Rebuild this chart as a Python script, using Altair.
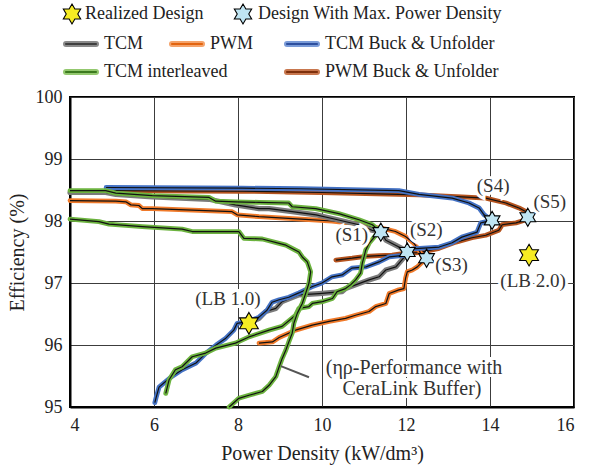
import altair as alt
import pandas as pd

# Pareto fronts: power density (kW/dm³) vs. efficiency (%)
tcm_x = [4.00, 4.85, 5.09, 5.96, 7.31, 7.94, 8.50, 8.74, 9.29, 9.86, 10.24, 10.88, 11.19, 11.40,
         11.52, 11.75, 11.92, 12.03, 12.00, 11.76, 11.52, 11.36, 11.12, 10.88, 10.56, 10.48, 9.93,
         9.45, 9.05, 8.90, 8.66, 8.50, 8.26]
tcm_y = [98.46, 98.46, 98.43, 98.39, 98.35, 98.26, 98.20, 98.20, 98.15, 98.10, 98.04, 97.94, 97.85, 97.82,
         97.69, 97.61, 97.55, 97.50, 97.45, 97.26, 97.21, 97.10, 97.05, 96.99, 96.91, 96.86, 96.83,
         96.81, 96.70, 96.59, 96.54, 96.43, 96.35]

pwm_x = [4.00, 5.09, 5.33, 5.45, 5.64, 5.72, 5.96, 7.86, 7.98, 8.50, 9.50, 10.24, 10.88, 11.20, 11.44,
         11.75, 11.99, 12.19, 12.31, 12.39, 12.49, 12.39, 12.27, 12.15, 12.03, 11.99, 11.95, 11.83, 11.60,
         11.52, 11.28, 11.12, 10.80, 10.56, 10.17, 9.77, 9.37, 8.98, 8.82, 8.50]
pwm_y = [98.33, 98.32, 98.31, 98.26, 98.25, 98.20, 98.20, 98.15, 98.10, 98.07, 98.03, 98.00, 97.95, 97.90, 97.88,
         97.83, 97.75, 97.64, 97.53, 97.42, 97.40, 97.34, 97.26, 97.21, 97.18, 97.08, 96.91, 96.89, 96.83,
         96.67, 96.62, 96.54, 96.48, 96.43, 96.38, 96.32, 96.24, 96.12, 96.05, 96.03]

tcm_bu_x = [4.86, 8.10, 9.50, 11.83, 12.31, 13.10, 13.50, 13.74, 13.86, 14.05, 13.78, 13.69, 13.33, 13.10,
            12.79, 12.14, 12.00, 11.60, 11.36, 11.05, 10.71, 10.48, 10.24, 10.00, 9.76, 9.45, 9.21, 8.98,
            8.81, 8.69, 8.50, 8.26, 7.98, 7.90, 7.71, 7.48, 7.24, 7.00, 6.67, 6.40, 6.24, 6.12, 6.05, 6.02]
tcm_bu_y = [98.54, 98.53, 98.52, 98.49, 98.43, 98.37, 98.29, 98.21, 98.10, 98.01, 97.97, 97.82, 97.74, 97.65,
            97.58, 97.55, 97.45, 97.42, 97.34, 97.26, 97.24, 97.13, 97.10, 97.00, 96.94, 96.84, 96.77, 96.73,
            96.69, 96.56, 96.45, 96.38, 96.35, 96.24, 96.11, 96.00, 95.87, 95.71, 95.60, 95.48, 95.39, 95.32,
            95.15, 95.07]

pwm_bu_x = [4.90, 8.10, 10.00, 11.83, 12.31, 13.33, 13.90, 14.38, 14.69, 14.86, 14.90, 14.86, 14.62, 14.29,
            14.21, 13.90, 13.57, 13.19, 12.79, 12.31, 11.99, 11.67, 11.36, 11.04, 10.72, 10.33]
pwm_bu_y = [98.49, 98.48, 98.46, 98.43, 98.42, 98.39, 98.37, 98.29, 98.21, 98.15, 98.06, 98.02, 97.97, 97.94,
            97.85, 97.77, 97.73, 97.66, 97.56, 97.49, 97.48, 97.45, 97.44, 97.43, 97.40, 97.37]

tcm_il_x = [4.00, 4.85, 5.09, 5.96, 7.31, 7.47, 7.94, 8.50, 9.21, 9.29, 9.85, 10.40, 10.88, 11.20, 11.40,
            11.28, 11.12, 11.04, 11.00, 10.96, 10.92, 10.80, 10.68, 10.56, 10.36, 10.25, 10.01, 9.77, 9.69,
            9.45, 9.37, 9.05, 8.74, 8.26, 7.94, 7.47, 7.23, 6.91, 6.67, 6.51, 6.36, 6.28]
tcm_il_y = [98.49, 98.49, 98.45, 98.41, 98.38, 98.32, 98.31, 98.30, 98.29, 98.23, 98.20, 98.12, 98.02, 97.94, 97.82,
            97.77, 97.64, 97.53, 97.42, 97.32, 97.16, 97.05, 96.97, 96.91, 96.86, 96.75, 96.70, 96.67, 96.62,
            96.59, 96.48, 96.30, 96.24, 96.13, 96.03, 95.95, 95.87, 95.81, 95.65, 95.60, 95.44, 95.22]

# TCM interleaved front with CeraLink buffer
cera_x = [4.00, 4.69, 4.93, 5.72, 6.67, 6.91, 8.02, 8.14, 8.58, 8.98, 9.14, 9.45, 9.53, 9.65, 9.73,
          9.69, 9.61, 9.53, 9.41, 9.33, 9.29, 9.21, 9.14, 9.05, 8.98, 8.90, 8.74, 8.58, 8.26, 8.02, 7.79]
cera_y = [98.03, 97.99, 97.95, 97.91, 97.87, 97.83, 97.83, 97.72, 97.71, 97.64, 97.61, 97.50, 97.42, 97.34, 97.18,
          97.00, 96.83, 96.67, 96.51, 96.35, 96.19, 96.05, 95.92, 95.78, 95.65, 95.49, 95.35, 95.25, 95.19,
          95.14, 95.00]

# Designs with maximum power density and realized designs
max_pd_names = ["(S1)", "(S2)", "(S3)", "(S4)", "(S5)"]
max_pd_x = [11.40, 12.03, 12.49, 14.05, 14.90]
max_pd_y = [97.82, 97.50, 97.40, 98.01, 98.06]
real_names = ["(LB 1.0)", "(LB 2.0)"]
real_x = [8.26, 14.93]
real_y = [96.35, 97.45]

# Pointer to the CeraLink front and its note
note_x = [9.02, 9.69]
note_y = [95.66, 95.48]
note_lines = ["(ηρ-Performance with", "CeraLink Buffer)"]

series_names = ["TCM", "PWM", "TCM Buck & Unfolder", "TCM interleaved", "PWM Buck & Unfolder"]

FONT = "Liberation Serif, Times New Roman, serif"
STAR = ("M0,-1L0.2887,-0.5L0.866,-0.5L0.577,0L0.866,0.5L0.2887,0.5L0,1L-0.2887,0.5"
        "L-0.866,0.5L-0.577,0L-0.866,-0.5L-0.2887,-0.5Z")
YELLOW = "#f6ec23"
CYAN = "#bfe5f3"

X = alt.X("x:Q", title="Power Density (kW/dm³)",
          scale=alt.Scale(domain=[4, 16], nice=False, zero=False),
          axis=alt.Axis(values=[4, 6, 8, 10, 12, 14, 16], grid=True, ticks=False,
                        labelPadding=9, titlePadding=9, format="d",
                        labelFont=FONT, titleFont=FONT))
Y = alt.Y("y:Q", title="Efficiency (%)",
          scale=alt.Scale(domain=[95, 100], nice=False, zero=False),
          axis=alt.Axis(values=[95, 96, 97, 98, 99, 100], grid=True, ticks=False,
                        labelPadding=8, titlePadding=8, format="d",
                        labelFont=FONT, titleFont=FONT))


def front(xs, ys):
    return pd.DataFrame({"x": xs, "y": ys, "i": list(range(len(xs)))})


def front_layers(xs, ys, color, width=4.8):
    df = front(xs, ys)
    outer = alt.Chart(df).mark_line(color=color, strokeWidth=width, strokeJoin="round",
                                    strokeCap="round").encode(x=X, y=Y, order="i:Q")
    inner = alt.Chart(df).mark_line(color="#111111", strokeWidth=1.2, strokeJoin="round").encode(
        x=X, y=Y, order="i:Q")
    return [outer, inner]


layers = []
layers += front_layers(pwm_bu_x, pwm_bu_y, "#b5531e")
layers += front_layers(pwm_x, pwm_y, "#f07a2a")
layers += front_layers(tcm_x, tcm_y, "#7a7a7a", 5.2)
layers += front_layers(tcm_bu_x, tcm_bu_y, "#4472c4")
layers += front_layers(tcm_il_x, tcm_il_y, "#6cb33f")
layers += front_layers(cera_x, cera_y, "#6cb33f")

# pointer for the note
note_df = pd.DataFrame({"x": note_x, "y": note_y, "i": [0, 1]})
layers.append(alt.Chart(note_df).mark_line(color="#555555", strokeWidth=2).encode(x=X, y=Y, order="i:Q"))

# stars
max_df = pd.DataFrame({"x": max_pd_x, "y": max_pd_y, "label": max_pd_names})
real_df = pd.DataFrame({"x": real_x, "y": real_y, "label": real_names})
layers.append(alt.Chart(max_df).mark_point(shape=STAR, filled=True, fill=CYAN, stroke="black",
                                           strokeWidth=1.1, size=330, opacity=1).encode(x=X, y=Y))
layers.append(alt.Chart(real_df).mark_point(shape=STAR, filled=True, fill=YELLOW, stroke="black",
                                            strokeWidth=1.1, size=470, opacity=1).encode(x=X, y=Y))


def halo_text(df, dx, dy, size=19, align="center"):
    common = dict(font=FONT, fontSize=size, align=align, baseline="middle", dx=dx, dy=dy)
    halo = alt.Chart(df).mark_text(color="white", stroke="white", strokeWidth=6, **common).encode(
        x=X, y=Y, text="label:N")
    txt = alt.Chart(df).mark_text(color="#333333", **common).encode(x=X, y=Y, text="label:N")
    return [halo, txt]


label_offsets = {"(S1)": (-29, 3), "(S2)": (19, -22), "(S3)": (25, 7), "(S4)": (1, -34),
                 "(S5)": (22, -15), "(LB 1.0)": (-21, -24), "(LB 2.0)": (4, 26)}
for df in (max_df, real_df):
    for _, row in df.iterrows():
        dx, dy = label_offsets[row["label"]]
        layers += halo_text(pd.DataFrame([row]), dx, dy)

note_end = pd.DataFrame({"x": [note_x[1]], "y": [note_y[1]], "label": [note_lines[0]]})
note_end2 = pd.DataFrame({"x": [note_x[1]], "y": [note_y[1]], "label": [note_lines[1]]})
layers += halo_text(note_end, 105, -9, size=20)
layers += halo_text(note_end2, 103, 12, size=20)

# legend above the plot area
def legend_text(label, px, py):
    return alt.Chart(pd.DataFrame({"label": [label]})).mark_text(
        font=FONT, fontSize=18, align="left", baseline="middle", color="#222222").encode(
        x=alt.value(px), y=alt.value(py), text="label:N")


def legend_star(fill, px, py):
    return alt.Chart(pd.DataFrame({"label": ["s"]})).mark_point(
        shape=STAR, filled=True, fill=fill, stroke="black", strokeWidth=1.1, size=400, opacity=1).encode(
        x=alt.value(px), y=alt.value(py))


def legend_line(outer, inner, px, py):
    d = pd.DataFrame({"label": ["l"]})
    a = alt.Chart(d).mark_rule(color=outer, strokeWidth=6, strokeCap="round").encode(
        x=alt.value(px), x2=alt.value(px + 30), y=alt.value(py))
    b = alt.Chart(d).mark_rule(color=inner, strokeWidth=2.2, strokeCap="round").encode(
        x=alt.value(px), x2=alt.value(px + 30), y=alt.value(py))
    return [a, b]


r1, r2, r3 = -83, -53, -25
layers.append(legend_star(YELLOW, 2, r1))
layers.append(legend_text("Realized Design", 15, r1))
layers.append(legend_star(CYAN, 173, r1))
layers.append(legend_text("Design With Max. Power Density", 188, r1))

legend_items = [
    (series_names[0], "#8a8a8a", "#3f3f3f", -4, r2),
    (series_names[1], "#f5a36a", "#e2640f", 102, r2),
    (series_names[2], "#7a9bd8", "#2d4f9e", 217, r2),
    (series_names[3], "#93c86e", "#3c7a1f", -4, r3),
    (series_names[4], "#c8774e", "#7e300c", 217, r3),
]
for name, outer, inner, px, py in legend_items:
    layers += legend_line(outer, inner, px, py)
    layers.append(legend_text(name, px + 38, py))

chart = alt.layer(*layers).properties(
    width=504, height=310,
    padding={"left": 70, "top": 97, "right": 20, "bottom": 67},
    autosize=alt.AutoSizeParams(type="none"),
).configure_view(
    stroke="black", strokeWidth=2
).configure_axis(
    gridColor="#3c3c3c", gridWidth=1, gridOpacity=1,
    domainColor="black", domainWidth=2,
    labelFontSize=18, labelColor="#222222",
    titleFontSize=20, titleFontWeight="normal", titleColor="#222222",
)

chart.save("out.html", embed_options={"renderer": "svg", "actions": False})
